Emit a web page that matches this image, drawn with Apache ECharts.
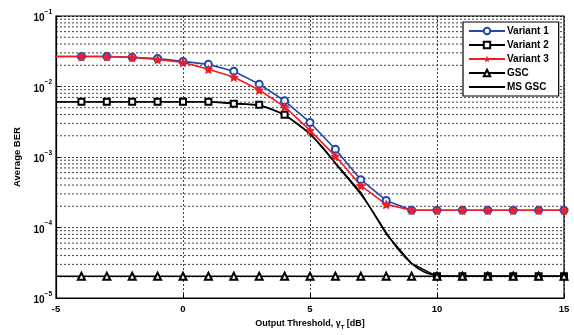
<!DOCTYPE html>
<html>
<head>
<meta charset="utf-8">
<script src="https://cdn.jsdelivr.net/npm/echarts@6/dist/echarts.min.js"></script>
<style>
  html, body { margin: 0; padding: 0; background: #fff; }
  #chart { width: 574px; height: 335px; }
</style>
</head>
<body>
<div id="chart"></div>
<script>
// thresholds in dB, one point per dB
const thresholds = [-5, -4, -3, -2, -1, 0, 1, 2, 3, 4, 5, 6, 7, 8, 9, 10, 11, 12, 13, 14, 15]
const variant1 = [0.0267, 0.0267, 0.0267, 0.0259, 0.0250, 0.0227, 0.0206, 0.0165, 0.0108, 0.00627, 0.00309,
  0.00129, 0.000477, 0.000242, 0.000176, 0.000176, 0.000176, 0.000176, 0.000176, 0.000176, 0.000176]
const variant2 = [0.00607, 0.00607, 0.00607, 0.00607, 0.00607, 0.00607, 0.00607, 0.00569, 0.00551, 0.00399, 0.00217,
  0.000824, 0.000314, 0.0000811, 0.0000309, 0.0000203, 0.0000203, 0.0000203, 0.0000203, 0.0000203, 0.0000203]
const variant3 = [0.0267, 0.0267, 0.0267, 0.0259, 0.0242, 0.0220, 0.0176, 0.0136, 0.00893, 0.00517, 0.00239,
  0.00103, 0.000393, 0.000213, 0.000176, 0.000176, 0.000176, 0.000176, 0.000176, 0.000176, 0.000176]
const gsc = [0.0000203, 0.0000203, 0.0000203, 0.0000203, 0.0000203, 0.0000203, 0.0000203, 0.0000203, 0.0000203,
  0.0000203, 0.0000203, 0.0000203, 0.0000203, 0.0000203, 0.0000203, 0.0000203, 0.0000203, 0.0000203, 0.0000203,
  0.0000203, 0.0000203]

// MS GSC is on a finer grid (0.5 dB)
const msThresholds = [-5, -4.5, -4, -3.5, -3, -2.5, -2, -1.5, -1, -0.5, 0, 0.5, 1, 1.5, 2, 2.5, 3, 3.5, 4, 4.5, 5,
  5.5, 6, 6.5, 7, 7.5, 8, 8.5, 9, 9.5, 10, 10.5, 11, 11.5, 12, 12.5, 13, 13.5, 14, 14.5, 15]
const msGsc = [0.00607, 0.00607, 0.00607, 0.00607, 0.00607, 0.00607, 0.00607, 0.00607, 0.00607, 0.00607, 0.00607,
  0.00606, 0.00604, 0.00598, 0.00578, 0.00560, 0.00538, 0.00478, 0.00393, 0.00298, 0.00210,
  0.00137, 0.00081, 0.00049, 0.000295, 0.000163, 0.0000845, 0.0000475, 0.0000308, 0.0000234, 0.0000209,
  0.0000204, 0.0000203, 0.0000203, 0.0000203, 0.0000203, 0.0000203, 0.0000203, 0.0000203, 0.0000203, 0.0000203]

const seriesNames = ['Variant 1', 'Variant 2', 'Variant 3', 'GSC', 'MS GSC']

const FONT = 'Liberation Sans'
const starPath = 'path://M0,-10 L2.9,-4 9.5,-3.1 4.7,1.5 5.9,8.1 0,5 -5.9,8.1 -4.7,1.5 -9.5,-3.1 -2.9,-4 Z'

// no marker at the left border, variant 2 markers hidden on the falling part
const toPoints = (xs, ys, hideFrom, hideTo) =>
  xs.map((x, i) => {
    const hidden = x === -5 || (hideFrom !== undefined && x >= hideFrom && x <= hideTo)
    return hidden ? { value: [x, ys[i]], symbol: 'none' } : { value: [x, ys[i]] }
  })

// minor grid lines of the log axis (2..9 x 10^k), as broken horizontal segments
const minorGrid = []
for (let k = -5; k < -1; k++) {
  for (let m = 2; m <= 9; m++) {
    const v = m * Math.pow(10, k)
    minorGrid.push([-5, v], [15, v], [15, '-'])
  }
}

const gridLine = { color: '#111', type: [2, 2], width: 0.8 }

const chart = echarts.init(document.getElementById('chart'), null, { renderer: 'canvas' })

chart.setOption({
  backgroundColor: '#ffffff',
  animation: false,
  textStyle: { fontFamily: FONT },
  grid: {
    left: 56,
    right: 10,
    top: 16,
    bottom: 33,
    show: true,
    borderColor: '#000',
    borderWidth: 1.2,
  },
  legend: {
    orient: 'vertical',
    left: 463,
    top: 22,
    data: seriesNames.map((name) =>
      name === 'MS GSC' ? { name, itemStyle: { color: 'transparent', borderColor: 'transparent' } } : name
    ),
    backgroundColor: '#fff',
    borderColor: '#000',
    borderWidth: 1.2,
    borderRadius: 0,
    padding: [4, 10, 4, 5],
    itemGap: 4,
    itemWidth: 36,
    itemHeight: 8,
    textStyle: { fontFamily: FONT, fontSize: 10, fontWeight: 'bold', color: '#000', padding: [0, 0, 0, -3] },
  },
  xAxis: {
    type: 'value',
    min: -5,
    max: 15,
    interval: 5,
    name: 'Output Threshold, γ{sub|T} [dB]',
    nameLocation: 'middle',
    nameGap: 20,
    nameTextStyle: {
      fontFamily: FONT,
      fontSize: 9,
      fontWeight: 'bold',
      color: '#000',
      rich: { sub: { fontSize: 6, fontWeight: 'bold', padding: [6, 0, 0, 0] } },
    },
    axisLine: { onZero: false, lineStyle: { color: '#000', width: 1.2 } },
    axisTick: { inside: true, length: 4, lineStyle: { color: '#000' } },
    axisLabel: { fontFamily: FONT, fontSize: 9.5, fontWeight: 'bold', color: '#000', margin: 6 },
    splitLine: { show: true, lineStyle: gridLine },
  },
  yAxis: {
    type: 'log',
    logBase: 10,
    min: 1e-5,
    max: 1e-1,
    name: 'Average BER',
    nameLocation: 'middle',
    nameGap: 34,
    nameTextStyle: { fontFamily: FONT, fontSize: 9.5, fontWeight: 'bold', color: '#000' },
    axisLine: { onZero: false, lineStyle: { color: '#000', width: 1.2 } },
    axisTick: { inside: true, length: 4, lineStyle: { color: '#000' } },
    axisLabel: {
      color: '#000',
      margin: 4,
      formatter: (v) => '{b|10}{s|−' + Math.round(-Math.log10(v)) + '}',
      rich: {
        b: { fontFamily: FONT, fontSize: 10, fontWeight: 'bold', padding: [5, 0, 0, 0] },
        s: { fontFamily: FONT, fontSize: 6.5, fontWeight: 'bold', verticalAlign: 'top', padding: [0, 0, 6, 0] },
      },
    },
    splitLine: { show: true, lineStyle: gridLine },
  },
  series: [
    {
      name: 'minor grid',
      type: 'line',
      symbol: 'none',
      silent: true,
      connectNulls: false,
      lineStyle: gridLine,
      data: minorGrid,
      z: 1,
    },
    {
      name: 'Variant 1',
      type: 'line',
      symbol: 'emptyCircle',
      symbolSize: 7,
      color: '#2346b0',
      lineStyle: { width: 1.6, color: '#2346b0' },
      itemStyle: { color: '#2346b0', borderWidth: 1.6 },
      data: toPoints(thresholds, variant1),
      z: 3,
    },
    {
      name: 'Variant 2',
      type: 'line',
      symbol: 'emptyRect',
      symbolSize: 6,
      color: '#000',
      lineStyle: { width: 1.5, color: '#000' },
      itemStyle: { color: '#000', borderWidth: 1.5 },
      data: toPoints(thresholds, variant2, 5, 9),
      z: 3,
    },
    {
      name: 'Variant 3',
      type: 'line',
      symbol: starPath,
      symbolSize: 10,
      color: '#ee1f26',
      lineStyle: { width: 1.6, color: '#ee1f26' },
      itemStyle: { color: '#ee1f26' },
      data: toPoints(thresholds, variant3),
      z: 3,
    },
    {
      name: 'GSC',
      type: 'line',
      symbol: 'emptyTriangle',
      symbolSize: 7,
      color: '#000',
      lineStyle: { width: 1.5, color: '#000' },
      itemStyle: { color: '#000', borderWidth: 1.5 },
      data: toPoints(thresholds, gsc),
      z: 3,
    },
    {
      name: 'MS GSC',
      type: 'line',
      symbol: 'none',
      smooth: 0.3,
      color: '#000',
      lineStyle: { width: 1.5, color: '#000' },
      itemStyle: { color: '#000' },
      data: msThresholds.map((x, i) => [x, msGsc[i]]),
      z: 3,
    },
  ],
})
</script>
</body>
</html>
